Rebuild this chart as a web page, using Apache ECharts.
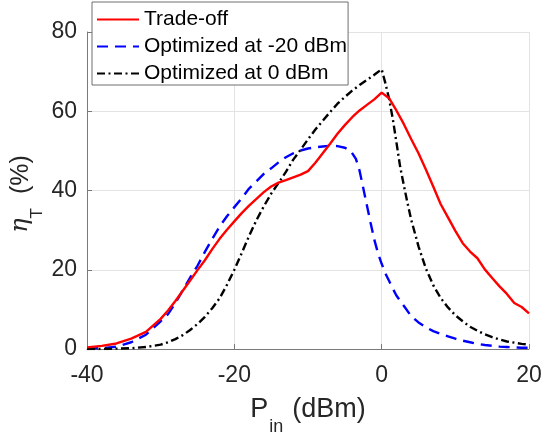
<!DOCTYPE html>
<html>
<head>
<meta charset="utf-8">
<script src="https://cdn.jsdelivr.net/npm/echarts@6/dist/echarts.min.js"></script>
<style>
html,body{margin:0;padding:0;background:#fff;}
#c{width:541px;height:434px;}
</style>
</head>
<body>
<div id="c"></div>
<script>
const xTicks = [-40, -20, 0, 20];
const yTicks = [0, 20, 40, 60, 80];
const seriesNames = ['Trade-off', 'Optimized at -20 dBm', 'Optimized at 0 dBm'];

const tradeX = [-40,-38,-36,-34,-32,-30,-29,-28,-27,-26,-25,-24,-23,-22,-21,-20,-19,-18,-17,-16,-15,-14,-13,-12,-11,-10,-9,-8,-7,-6,-5,-4,-3,-2,-1,0,1,2,3,4,5,6,7,8,9,10,11,12,13,14,15,16,17,18,19,20];
const tradeY = [0.4,0.8,1.4,2.6,4.3,7.6,9.7,12.1,14.7,17.3,19.9,22.4,25.2,27.8,30.1,32.2,34.3,36.2,37.9,39.6,41.0,42.0,42.6,43.3,44.0,44.9,47.0,49.4,51.8,54.3,56.5,58.5,60.2,61.6,63.0,64.7,63.3,60.2,56.8,53.0,49.4,45.3,41.0,36.6,33.2,29.8,26.7,24.6,22.9,20.1,17.9,15.8,13.9,11.6,10.6,9.0];

const optM20X = [-40,-38,-36,-34,-32,-30,-29,-28,-27,-26,-25,-24,-23,-22,-21,-20,-19,-18,-17,-16,-15,-14,-13,-12,-11,-10,-9,-8,-7,-6,-5,-4.2,-3.5,-3,-2.5,-2,-1.5,-1,-0.5,0,0.5,1,1.5,2,3,4,5,6,7,8,9,10,11,12,13,14,15,16,17,18,19,20];
const optM20Y = [0.1,0.2,0.6,1.7,3.6,7.0,8.8,11.6,14.8,18.0,21.0,24.5,27.8,30.9,33.5,35.8,38.0,40.5,42.3,44.2,45.6,47.1,48.4,49.4,50.1,50.6,50.9,51.1,51.3,51.2,50.8,50.0,48.0,45.0,40.6,36.2,31.8,27.6,24.2,21.5,19.1,17.2,15.3,13.5,10.9,8.3,6.7,5.5,4.5,3.8,3.2,2.6,2.1,1.7,1.3,1.0,0.8,0.6,0.5,0.4,0.3,0.3];

const opt0X = [-40,-38,-36,-34,-32,-30,-29,-28,-27,-26,-25,-24,-23,-22,-21,-20,-19,-18,-17,-16,-15,-14,-13,-12,-11,-10,-9,-8,-7,-6,-5,-4,-3,-2,-1,0,0.5,1,1.5,2,2.5,3,3.5,4,5,6,7,8,9,10,11,12,13,14,15,16,17,18,19,20];
const opt0Y = [0.0,0.0,0.1,0.2,0.5,1.1,1.7,2.5,3.5,4.8,6.3,8.1,10.3,12.8,16.2,20.0,24.2,28.5,32.5,36.0,39.2,41.9,44.7,47.8,50.3,52.9,55.4,57.6,59.8,61.9,63.6,65.2,66.6,67.9,69.2,70.6,67.1,63.2,58.2,52.2,46.1,41.4,36.9,32.7,25.9,20.3,16.1,12.9,10.5,8.5,7.0,5.6,4.6,3.7,3.0,2.4,1.9,1.6,1.3,1.1];

function pairs(xs, ys) { return xs.map((x, i) => [x, ys[i]]); }

const chart = echarts.init(document.getElementById('c'), null, {renderer: 'canvas'});
const tickColor = '#262626';
const fontFam = '"Liberation Sans", Arial, Helvetica, sans-serif';

chart.setOption({
  animation: false,
  backgroundColor: '#ffffff',
  grid: {left: 87, right: 12, top: 32, bottom: 85, containLabel: false, outerBoundsMode: 'none'},
  legend: {
    data: seriesNames,
    orient: 'vertical',
    left: 92,
    top: 2,
    padding: [7, 1, 1, 4],
    itemWidth: 42,
    itemHeight: 14,
    itemGap: 6,
    backgroundColor: '#ffffff',
    borderColor: '#6e6e6e',
    borderWidth: 1,
    borderRadius: 0,
    itemStyle: {opacity: 0},
    textStyle: {fontFamily: fontFam, fontSize: 21, color: '#000', lineHeight: 21},
    z: 10
  },
  xAxis: {
    type: 'value',
    min: xTicks[0],
    max: xTicks[xTicks.length - 1],
    interval: xTicks[1] - xTicks[0],
    name: '{p|P}{s|in}{n|(dBm)}',
    nameLocation: 'middle',
    nameGap: 47,
    nameMoveOverlap: false,
    nameTextStyle: {
      rich: {
        p: {fontFamily: fontFam, fontSize: 27, color: tickColor, lineHeight: 28, verticalAlign: 'middle'},
        s: {fontFamily: fontFam, fontSize: 18, color: tickColor, lineHeight: 20, verticalAlign: 'middle', padding: [35, 0, 0, 1]},
        n: {fontFamily: fontFam, fontSize: 27, color: tickColor, lineHeight: 28, verticalAlign: 'middle', padding: [0, 0, 0, 9]}
      }
    },
    axisLine: {show: true, onZero: false, lineStyle: {color: '#7a7a7a', width: 1}},
    axisTick: {show: true, inside: true, length: 5, lineStyle: {color: '#7a7a7a'}},
    axisLabel: {fontFamily: fontFam, fontSize: 23, color: tickColor, margin: 15},
    splitLine: {show: true, lineStyle: {color: '#e3e3e3', width: 1}}
  },
  yAxis: {
    type: 'value',
    min: yTicks[0],
    max: yTicks[yTicks.length - 1],
    interval: yTicks[1] - yTicks[0],
    name: '{e|η}{s|T}{n|(%)}',
    nameLocation: 'middle',
    nameRotate: 90,
    nameGap: 52,
    nameMoveOverlap: false,
    nameTextStyle: {
      rich: {
        e: {fontFamily: '"DejaVu Serif", "Liberation Serif", serif', fontStyle: 'italic', fontSize: 24, color: tickColor, lineHeight: 28, verticalAlign: 'middle'},
        s: {fontFamily: fontFam, fontSize: 17, color: tickColor, lineHeight: 20, verticalAlign: 'middle', padding: [33, 0, 0, 0]},
        n: {fontFamily: fontFam, fontSize: 25, color: tickColor, lineHeight: 28, verticalAlign: 'middle', padding: [0, 7, 0, 14]}
      }
    },
    axisLine: {show: true, onZero: false, lineStyle: {color: '#7a7a7a', width: 1}},
    axisTick: {show: true, inside: true, length: 5, lineStyle: {color: '#7a7a7a'}},
    axisLabel: {fontFamily: fontFam, fontSize: 23, color: tickColor, margin: 10},
    splitLine: {show: true, lineStyle: {color: '#e3e3e3', width: 1}}
  },
  series: [
    {
      name: seriesNames[1], type: 'line', symbol: 'none', z: 2,
      data: pairs(optM20X, optM20Y),
      lineStyle: {color: '#0000ff', width: 2.4, type: [11, 7]},
      itemStyle: {color: '#0000ff'}
    },
    {
      name: seriesNames[2], type: 'line', symbol: 'none', z: 2,
      data: pairs(opt0X, opt0Y),
      lineStyle: {color: '#000000', width: 2.4, type: [8, 3.5, 2, 3.5]},
      itemStyle: {color: '#000000'}
    },
    {
      name: seriesNames[0], type: 'line', symbol: 'none', z: 3,
      data: pairs(tradeX, tradeY),
      lineStyle: {color: '#ff0000', width: 2.4, type: 'solid'},
      itemStyle: {color: '#ff0000'}
    }
  ]
});
</script>
</body>
</html>
